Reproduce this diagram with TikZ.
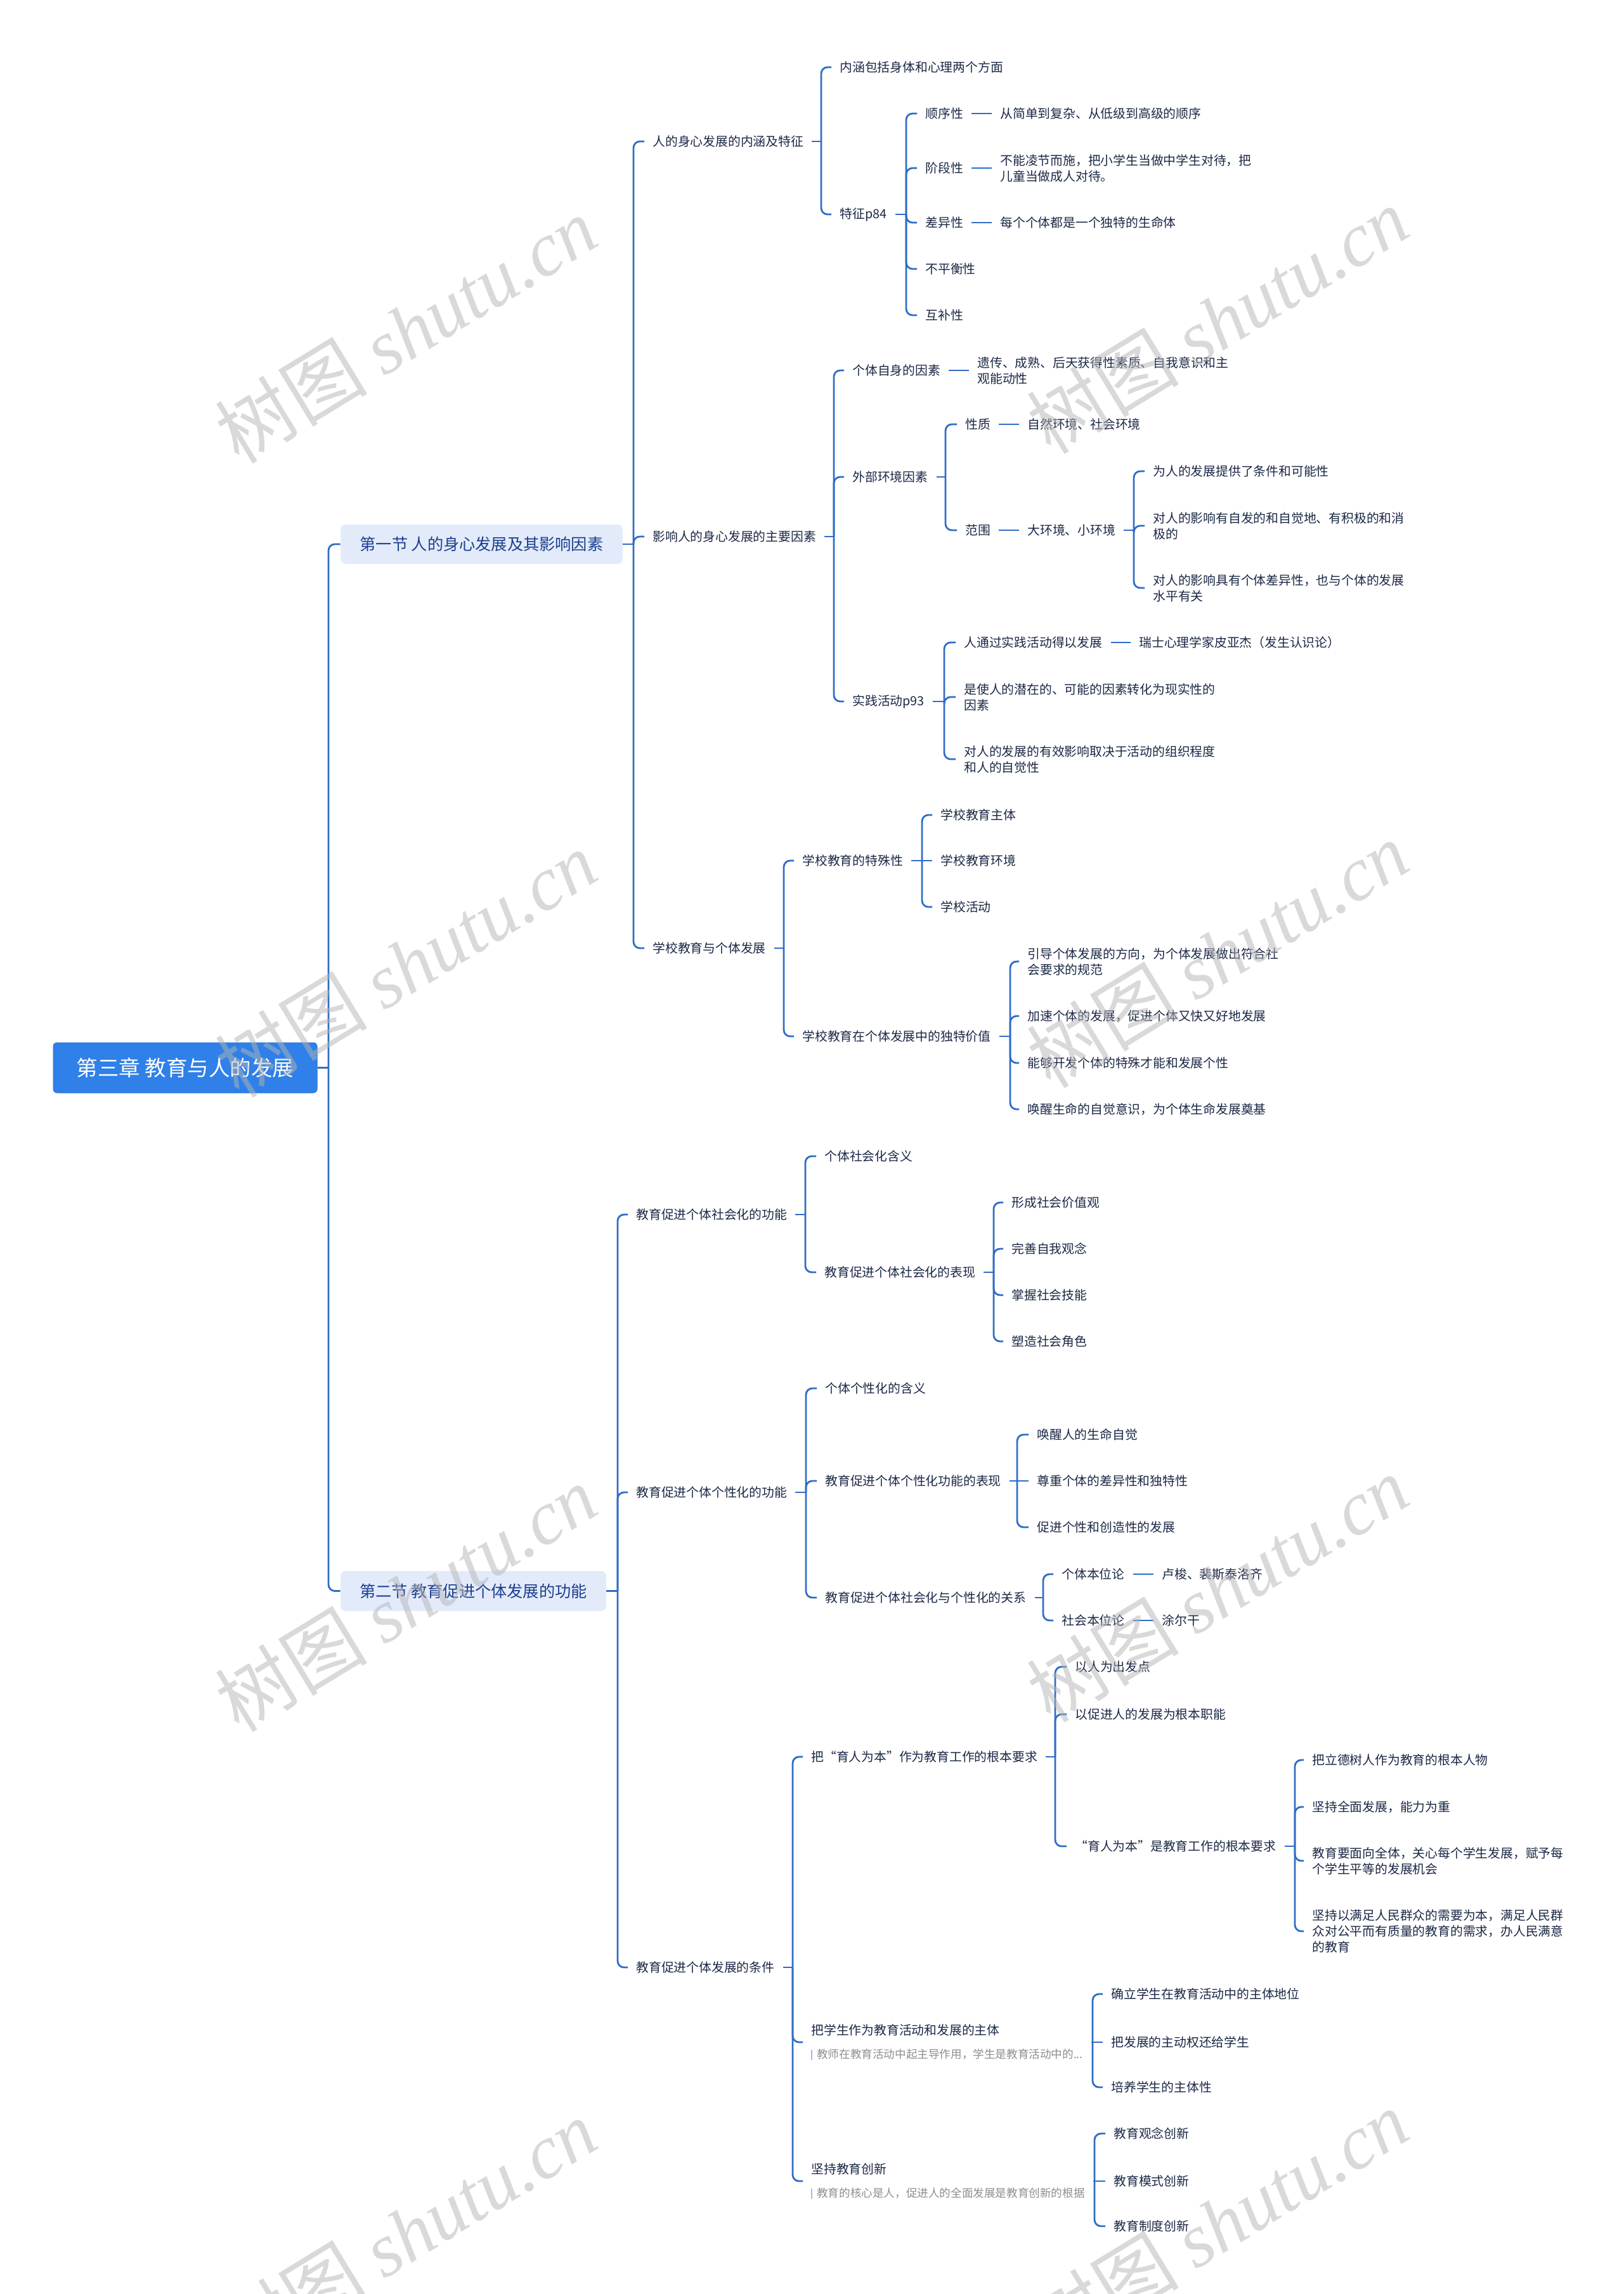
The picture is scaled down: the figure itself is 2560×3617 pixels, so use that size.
\documentclass[tikz,border=0pt]{standalone}
\usepackage{fontspec}
\setmainfont{Noto Sans CJK SC}
\newfontfamily\wmserif{Liberation Serif}
\usetikzlibrary{calc}
\definecolor{linec}{HTML}{2F6DC6}
\definecolor{txtc}{HTML}{1B2845}
\definecolor{rootfill}{HTML}{2F80E8}
\definecolor{rootdraw}{HTML}{2A74D6}
\definecolor{secfill}{HTML}{E3EBFB}
\definecolor{sectext}{HTML}{1C3F8E}
\definecolor{notec}{HTML}{8E8E8E}
\definecolor{barc}{HTML}{9DBBEA}
\definecolor{wmc}{HTML}{B4B4B4}
\tikzset{
  conn/.style={draw=linec, line width=1.4pt, rounded corners=5pt},
  leaf/.style={anchor=west, inner xsep=6.5pt, inner ysep=2pt, align=left, text=txtc,
    font=\fontsize{9.9}{12.5}\selectfont},
  rootbox/.style={rectangle, rounded corners=3pt, fill=rootfill, draw=rootdraw, line width=0.5pt,
    text=white, font=\fontsize{16.75}{20}\selectfont, minimum width=208pt, minimum height=39.5pt},
  secbox/.style={rectangle, rounded corners=4pt, fill=secfill, text=sectext,
    font=\fontsize{12.6}{15}\selectfont},
  wm/.style={text=wmc, text opacity=0.5, rotate=31.4, font=\fontsize{60}{68}\selectfont, inner sep=0pt}
}
\newcommand{\notetxt}[1]{{\fontsize{8.8}{10.5}\selectfont\textcolor{barc}{\rule[-1.2pt]{0.9pt}{8pt}}\hspace{3.5pt}\textcolor{notec}{#1}}}
\begin{document}
\begin{tikzpicture}[x=0.5pt, y=-0.5pt]
\useasboundingbox (0,0) rectangle (2560,3617);
\fill[white] (0,0) rectangle (2560,3617);

% root and sections
\node[rootbox] (R) at (292,1683.5) {第三章 教育与人的发展};
\node[secbox, minimum width=222.5pt, minimum height=31pt] (S1) at (759.5,858) {第一节 人的身心发展及其影响因素};
\node[secbox, minimum width=209.5pt, minimum height=31.5pt] (S2) at (746.5,2508.5) {第二节 教育促进个体发展的功能};

% section 1
\node[leaf] (A1) at (1016,223) {人的身心发展的内涵及特征};
\node[leaf] (A2) at (1016,846) {影响人的身心发展的主要因素};
\node[leaf] (A3) at (1016,1495) {学校教育与个体发展};

\node[leaf] (a11) at (1311,106) {内涵包括身体和心理两个方面};
\node[leaf] (a12) at (1311,338) {特征p84};
\node[leaf] (f1) at (1446,179) {顺序性};
\node[leaf] (f1x) at (1564,179) {从简单到复杂、从低级到高级的顺序};
\node[leaf] (f2) at (1446,265) {阶段性};
\node[leaf] (f2x) at (1564,265) {不能凌节而施，把小学生当做中学生对待，把\\儿童当做成人对待。};
\node[leaf] (f3) at (1446,351) {差异性};
\node[leaf] (f3x) at (1564,351) {每个个体都是一个独特的生命体};
\node[leaf] (f4) at (1446,424) {不平衡性};
\node[leaf] (f5) at (1446,497) {互补性};

\node[leaf] (a21) at (1331,584) {个体自身的因素};
\node[leaf] (a21x) at (1528,584) {遗传、成熟、后天获得性素质、自我意识和主\\观能动性};
\node[leaf] (a22) at (1331,752) {外部环境因素};
\node[leaf] (e1) at (1509,669) {性质};
\node[leaf] (e1x) at (1607,669) {自然环境、社会环境};
\node[leaf] (e2) at (1509,836) {范围};
\node[leaf] (e2x) at (1607,836) {大环境、小环境};
\node[leaf] (g1) at (1805,743) {为人的发展提供了条件和可能性};
\node[leaf] (g2) at (1805,829) {对人的影响有自发的和自觉地、有积极的和消\\极的};
\node[leaf] (g3) at (1805,927) {对人的影响具有个体差异性，也与个体的发展\\水平有关};
\node[leaf] (a23) at (1331,1106) {实践活动p93};
\node[leaf] (p1) at (1507,1013) {人通过实践活动得以发展};
\node[leaf] (p1x) at (1783,1013) {瑞士心理学家皮亚杰（发生认识论）};
\node[leaf] (p2) at (1507,1099) {是使人的潜在的、可能的因素转化为现实性的\\因素};
\node[leaf] (p3) at (1507,1197) {对人的发展的有效影响取决于活动的组织程度\\和人的自觉性};

\node[leaf] (a31) at (1252,1357) {学校教育的特殊性};
\node[leaf] (s1) at (1470,1285) {学校教育主体};
\node[leaf] (s2) at (1470,1357) {学校教育环境};
\node[leaf] (s3) at (1470,1430) {学校活动};
\node[leaf] (a32) at (1252,1634) {学校教育在个体发展中的独特价值};
\node[leaf] (v1) at (1607,1516) {引导个体发展的方向，为个体发展做出符合社\\会要求的规范};
\node[leaf] (v2) at (1607,1602) {加速个体的发展，促进个体又快又好地发展};
\node[leaf] (v3) at (1607,1676) {能够开发个体的特殊才能和发展个性};
\node[leaf] (v4) at (1607,1749) {唤醒生命的自觉意识，为个体生命发展奠基};

% section 2
\node[leaf] (B1) at (990,1915) {教育促进个体社会化的功能};
\node[leaf] (h1) at (1287,1823) {个体社会化含义};
\node[leaf] (h2) at (1287,2006) {教育促进个体社会化的表现};
\node[leaf] (h21) at (1582,1896) {形成社会价值观};
\node[leaf] (h22) at (1582,1969) {完善自我观念};
\node[leaf] (h23) at (1582,2042) {掌握社会技能};
\node[leaf] (h24) at (1582,2115) {塑造社会角色};

\node[leaf] (B2) at (990,2353) {教育促进个体个性化的功能};
\node[leaf] (i1) at (1288,2189) {个体个性化的含义};
\node[leaf] (i2) at (1288,2335) {教育促进个体个性化功能的表现};
\node[leaf] (i21) at (1622,2262) {唤醒人的生命自觉};
\node[leaf] (i22) at (1622,2335) {尊重个体的差异性和独特性};
\node[leaf] (i23) at (1622,2408) {促进个性和创造性的发展};
\node[leaf] (i3) at (1288,2519) {教育促进个体社会化与个性化的关系};
\node[leaf] (j1) at (1661,2482) {个体本位论};
\node[leaf] (j1x) at (1819,2482) {卢梭、裴斯泰洛齐};
\node[leaf] (j2) at (1661,2555) {社会本位论};
\node[leaf] (j2x) at (1819,2555) {涂尔干};

\node[leaf] (B3) at (990,3102) {教育促进个体发展的条件};
\node[leaf] (k1) at (1266,2770) {把“育人为本”作为教育工作的根本要求};
\node[leaf] (k11) at (1682,2628) {以人为出发点};
\node[leaf] (k12) at (1682,2703) {以促进人的发展为根本职能};
\node[leaf] (k13) at (1682,2911) {“育人为本”是教育工作的根本要求};
\node[leaf] (m1) at (2056,2775) {把立德树人作为教育的根本人物};
\node[leaf] (m2) at (2056,2849) {坚持全面发展，能力为重};
\node[leaf] (m3) at (2056,2934) {教育要面向全体，关心每个学生发展，赋予每\\个学生平等的发展机会};
\node[leaf] (m4) at (2056,3045) {坚持以满足人民群众的需要为本，满足人民群\\众对公平而有质量的教育的需求，办人民满意\\的教育};
\node[leaf] (k2) at (1266,3220) {把学生作为教育活动和发展的主体\\[6pt]\notetxt{教师在教育活动中起主导作用，学生是教育活动中的...}};
\node[leaf] (n1) at (1739,3144) {确立学生在教育活动中的主体地位};
\node[leaf] (n2) at (1739,3220) {把发展的主动权还给学生};
\node[leaf] (n3) at (1739,3291) {培养学生的主体性};
\node[leaf] (k3) at (1266,3439) {坚持教育创新\\[6pt]\notetxt{教育的核心是人，促进人的全面发展是教育创新的根据}};
\node[leaf] (o1) at (1743,3364) {教育观念创新};
\node[leaf] (o2) at (1743,3439) {教育模式创新};
\node[leaf] (o3) at (1743,3510) {教育制度创新};

% bus points
\coordinate (bR) at (518,1683.5);
\coordinate (bS1) at (999,858);
\coordinate (bS2) at (974,2508.5);
\coordinate (bA1) at (1295,223);
\coordinate (bA2) at (1315,846);
\coordinate (bA3) at (1236,1495);
\coordinate (ba12) at (1429,338);
\coordinate (ba22) at (1491,752);
\coordinate (be2x) at (1788,836);
\coordinate (ba23) at (1489,1106);
\coordinate (ba31) at (1454,1357);
\coordinate (ba32) at (1593,1634);
\coordinate (bB1) at (1270,1915);
\coordinate (bh2) at (1567,2006);
\coordinate (bB2) at (1271,2353);
\coordinate (bi2) at (1604,2335);
\coordinate (bi3) at (1645,2519);
\coordinate (bB3) at (1250,3102);
\coordinate (bk1) at (1664,2770);
\coordinate (bk13) at (2042,2911);
\coordinate (bk2) at (1723,3220);
\coordinate (bk3) at (1726,3439);

% stubs from parents to their bus
\foreach \p/\b in {R/bR, S1/bS1, S2/bS2, A1/bA1, A2/bA2, A3/bA3, a12/ba12, a22/ba22, e2x/be2x,
  a23/ba23, a31/ba31, a32/ba32, B1/bB1, h2/bh2, B2/bB2, i2/bi2, i3/bi3, B3/bB3, k1/bk1,
  k13/bk13, k2/bk2, k3/bk3}
  \draw[conn] (\p.east) -- (\b);

% elbow branches
\foreach \b/\c in {bR/S1, bR/S2, bS1/A1, bS1/A2, bS1/A3, bA1/a11, bA1/a12,
  ba12/f1, ba12/f2, ba12/f3, ba12/f4, ba12/f5,
  bA2/a21, bA2/a22, bA2/a23, ba22/e1, ba22/e2, be2x/g1, be2x/g2, be2x/g3,
  ba23/p1, ba23/p2, ba23/p3,
  bA3/a31, bA3/a32, ba31/s1, ba31/s3, ba32/v1, ba32/v2, ba32/v3, ba32/v4,
  bS2/B1, bS2/B2, bS2/B3, bB1/h1, bB1/h2, bh2/h21, bh2/h22, bh2/h23, bh2/h24,
  bB2/i1, bB2/i2, bB2/i3, bi2/i21, bi2/i23, bi3/j1, bi3/j2,
  bB3/k1, bB3/k2, bB3/k3, bk1/k11, bk1/k12, bk1/k13,
  bk13/m1, bk13/m2, bk13/m3, bk13/m4, bk2/n1, bk2/n3, bk3/o1, bk3/o3}
  \draw[conn] (\b) |- (\c.west);

% straight branches at the same height
\foreach \b/\c in {ba31/s2, bi2/i22, bk2/n2, bk3/o2}
  \draw[conn] (\b) -- (\c.west);
\foreach \a/\c in {f1/f1x, f2/f2x, f3/f3x, a21/a21x, e1/e1x, e2/e2x, p1/p1x, j1/j1x, j2/j2x}
  \draw[conn] (\a.east) -- (\c.west);

% watermarks
\node[wm] (w1) at (640,520) {树图 {\wmserif\itshape shutu.cn}};
\node[wm] (w2) at (1920,505) {树图 {\wmserif\itshape shutu.cn}};
\node[wm] (w3) at (640,1520) {树图 {\wmserif\itshape shutu.cn}};
\node[wm] (w4) at (1920,1505) {树图 {\wmserif\itshape shutu.cn}};
\node[wm] (w5) at (640,2520) {树图 {\wmserif\itshape shutu.cn}};
\node[wm] (w6) at (1920,2505) {树图 {\wmserif\itshape shutu.cn}};
\node[wm] (w7) at (640,3520) {树图 {\wmserif\itshape shutu.cn}};
\node[wm] (w8) at (1920,3505) {树图 {\wmserif\itshape shutu.cn}};
\end{tikzpicture}
\end{document}
